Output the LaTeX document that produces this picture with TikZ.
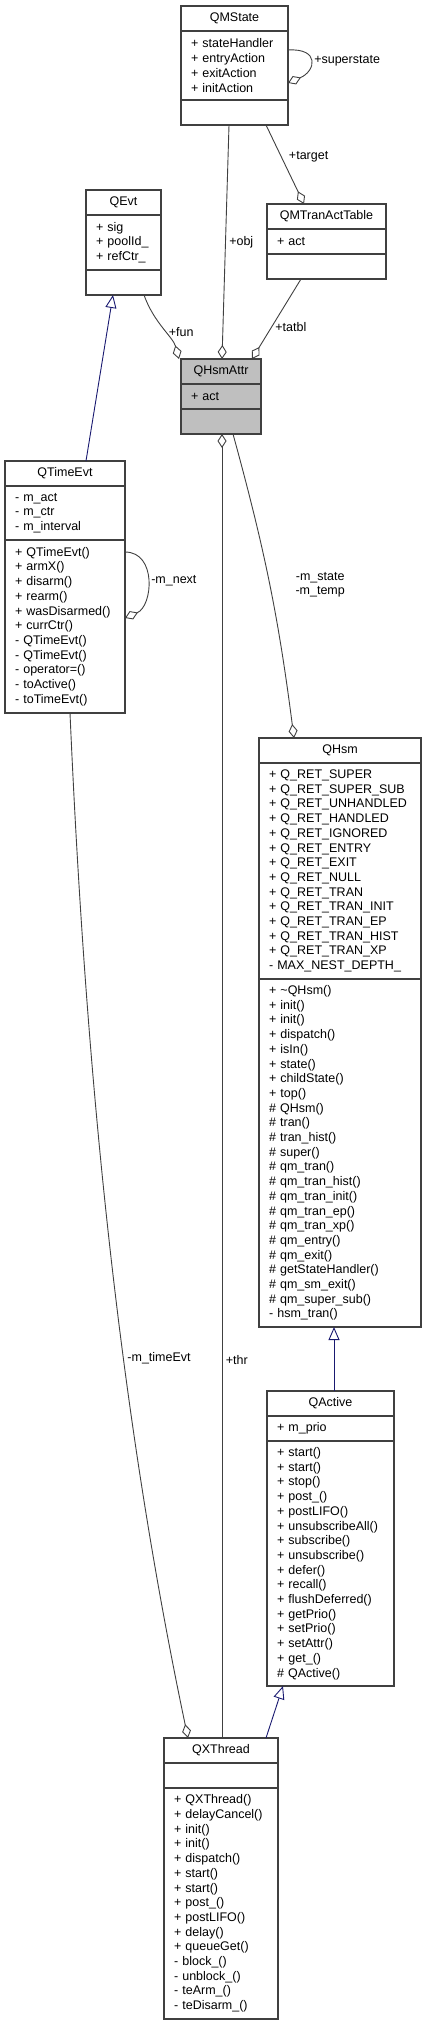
\documentclass[tikz,border=0pt]{standalone}
\usepackage{fontspec}
\setmainfont{Liberation Sans}
\usepackage{tikz}
\usetikzlibrary{arrows.meta,positioning}

\definecolor{edgegray}{HTML}{404040}
\definecolor{inhblue}{HTML}{191970}
\definecolor{attrgray}{HTML}{BFBFBF}
\newcommand{\umlfont}{\fontsize{12.5}{14.7}\selectfont}

\begin{document}
\begin{tikzpicture}[x=1pt, y=-1pt,
  head/.style={draw=edgegray, line width=1.1pt, outer sep=0pt, inner xsep=10pt, inner ysep=0pt, minimum height=25pt, align=center, font=\umlfont},
  body/.style={draw=edgegray, line width=1.1pt, outer sep=0pt, inner xsep=10pt, inner ysep=0pt, minimum height=#1, align=left, font=\umlfont},
  body/.default=25pt,
  agg/.style={edgegray, line width=0.9pt, -{Diamond[open, length=14pt, width=9pt]}},
  inh/.style={inhblue, line width=0.9pt, -{Triangle[open, length=13pt, width=11pt]}},
  every node/.style={font=\umlfont, text=black}
]
  \useasboundingbox (0,0) rectangle (427,2025);

  % Classes
  \node[head, text width=87pt, anchor=north west] (qmstate) at (181,6) {QMState};
  \node[body=69pt, text width=87pt, below=0pt of qmstate] (qmstate-a) {+~stateHandler\\+~entryAction\\+~exitAction\\+~initAction};
  \node[body, text width=87pt, below=0pt of qmstate-a] (qmstate-m) {};

  \node[head, text width=55pt, anchor=north west] (qevt) at (86,190) {QEvt};
  \node[body=55pt, text width=55pt, below=0pt of qevt] (qevt-a) {+~sig\\+~poolId\_\\+~refCtr\_};
  \node[body, text width=55pt, below=0pt of qevt-a] (qevt-m) {};

  \node[head, text width=99pt, anchor=north west] (qmtran) at (267,204) {QMTranActTable};
  \node[body, text width=99pt, below=0pt of qmtran] (qmtran-a) {+~act};
  \node[body, text width=99pt, below=0pt of qmtran-a] (qmtran-m) {};

  \node[head, fill=attrgray, text width=60pt, anchor=north west] (qhsmattr) at (181,359) {QHsmAttr};
  \node[body, fill=attrgray, text width=60pt, below=0pt of qhsmattr] (qhsmattr-a) {+~act};
  \node[body, fill=attrgray, text width=60pt, below=0pt of qhsmattr-a] (qhsmattr-m) {};

  \node[head, text width=100pt, anchor=north west] (qtimeevt) at (5,461) {QTimeEvt};
  \node[body=54pt, text width=100pt, below=0pt of qtimeevt] (qtimeevt-a) {-~m\_act\\-~m\_ctr\\-~m\_interval};
  \node[body=173pt, text width=100pt, below=0pt of qtimeevt-a] (qtimeevt-m) {+~QTimeEvt()\\+~armX()\\+~disarm()\\+~rearm()\\+~wasDisarmed()\\+~currCtr()\\-~QTimeEvt()\\-~QTimeEvt()\\-~operator=()\\-~toActive()\\-~toTimeEvt()};

  \node[head, text width=142pt, anchor=north west] (qhsm) at (259,738) {QHsm};
  \node[body=216pt, text width=142pt, below=0pt of qhsm] (qhsm-a) {+~Q\_RET\_SUPER\\+~Q\_RET\_SUPER\_SUB\\+~Q\_RET\_UNHANDLED\\+~Q\_RET\_HANDLED\\+~Q\_RET\_IGNORED\\+~Q\_RET\_ENTRY\\+~Q\_RET\_EXIT\\+~Q\_RET\_NULL\\+~Q\_RET\_TRAN\\+~Q\_RET\_TRAN\_INIT\\+~Q\_RET\_TRAN\_EP\\+~Q\_RET\_TRAN\_HIST\\+~Q\_RET\_TRAN\_XP\\-~MAX\_NEST\_DEPTH\_};
  \node[body=348pt, text width=142pt, below=0pt of qhsm-a] (qhsm-m) {+~\textasciitilde QHsm()\\+~init()\\+~init()\\+~dispatch()\\+~isIn()\\+~state()\\+~childState()\\+~top()\\\#~QHsm()\\\#~tran()\\\#~tran\_hist()\\\#~super()\\\#~qm\_tran()\\\#~qm\_tran\_hist()\\\#~qm\_tran\_init()\\\#~qm\_tran\_ep()\\\#~qm\_tran\_xp()\\\#~qm\_entry()\\\#~qm\_exit()\\\#~getStateHandler()\\\#~qm\_sm\_exit()\\\#~qm\_super\_sub()\\-~hsm\_tran()};

  \node[head, text width=107pt, anchor=north west] (qactive) at (267,1391) {QActive};
  \node[body, text width=107pt, below=0pt of qactive] (qactive-a) {+~m\_prio};
  \node[body=245pt, text width=107pt, below=0pt of qactive-a] (qactive-m) {+~start()\\+~start()\\+~stop()\\+~post\_()\\+~postLIFO()\\+~unsubscribeAll()\\+~subscribe()\\+~unsubscribe()\\+~defer()\\+~recall()\\+~flushDeferred()\\+~getPrio()\\+~setPrio()\\+~setAttr()\\+~get\_()\\\#~QActive()};

  \node[head, text width=94pt, anchor=north west] (qxthread) at (164,1738) {QXThread};
  \node[body, text width=94pt, below=0pt of qxthread] (qxthread-a) {};
  \node[body=231pt, text width=94pt, below=0pt of qxthread-a] (qxthread-m) {+~QXThread()\\+~delayCancel()\\+~init()\\+~init()\\+~dispatch()\\+~start()\\+~start()\\+~post\_()\\+~postLIFO()\\+~delay()\\+~queueGet()\\-~block\_()\\-~unblock\_()\\-~teArm\_()\\-~teDisarm\_()};

  % Aggregations
  \draw[agg] ([xshift=48pt]qmstate-m.south west) -- node[pos=0.5, right] {+obj} ([xshift=41pt]qhsmattr.north west);
  \draw[agg] ([xshift=85pt]qmstate-m.south west) -- node[pos=0.4, right=4pt] {+target} ([xshift=37pt]qmtran.north west);
  \draw[agg] ([yshift=-19pt]qmstate-a.north east) .. controls +(32,-2) and +(28,-12) .. node[right] {+superstate} ([yshift=-52pt]qmstate-a.north east);
  \draw[agg] ([xshift=58pt]qevt-m.south west) .. controls +(10,28) and +(-6,-22) .. node[pos=0.55, right] {+fun} ([xshift=-2pt]qhsmattr.north west);
  \draw[agg] ([xshift=34pt]qmtran-m.south west) -- node[pos=0.6, right] {+tatbl} ([xshift=71pt]qhsmattr.north west);
  \draw[agg] ([yshift=-12pt]qtimeevt-m.north east) .. controls +(32,0) and +(28,-12) .. node[right] {-m\_next} ([yshift=-78pt]qtimeevt-m.north east);
  \draw[agg] ([xshift=65pt]qtimeevt-m.south west) .. controls +(15,342) and +(-72,-342) .. node[pos=0.63, right] {-m\_timeEvt} ([xshift=24pt]qxthread.north west);
  \draw[agg] ([xshift=58pt]qxthread.north west) -- node[pos=0.29, right] {+thr} ([xshift=41pt]qhsmattr-m.south west);
  \draw[agg] ([xshift=52pt]qhsmattr-m.south west) to[bend left=4] node[pos=0.5, right=22pt, align=center] {-m\_state\\-m\_temp} ([xshift=35pt]qhsm.north west);

  % Inheritance
  \draw[inh] ([xshift=81pt]qtimeevt.north west) -- ([xshift=27pt]qevt-m.south west);
  \draw[inh] ([xshift=67pt]qactive.north west) -- ([xshift=75pt]qhsm-m.south west);
  \draw[inh] ([xshift=102pt]qxthread.north west) -- ([xshift=16pt]qactive-m.south west);
\end{tikzpicture}
\end{document}
